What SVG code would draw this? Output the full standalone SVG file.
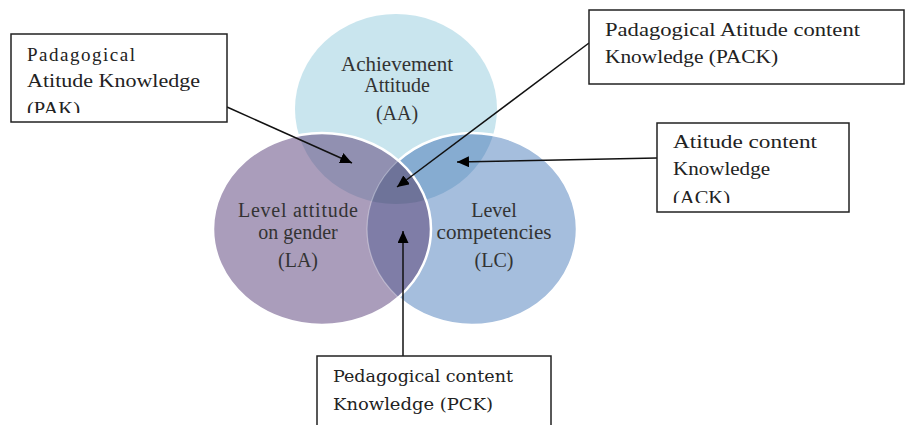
<svg xmlns="http://www.w3.org/2000/svg" width="906" height="425" viewBox="0 0 906 425">
<style>
.circ{font-size:20px;fill:#333;text-anchor:middle}
.bx{font-size:19px;fill:#222}
.pck{font-size:16px;fill:#222}
.box{fill:#fff;stroke:#222;stroke-width:1.5}
.con{stroke:#111;stroke-width:1.5;fill:none;marker-end:url(#ah)}
</style>
<defs>
<marker id="ah" viewBox="0 0 12 11" refX="12" refY="5.5" markerWidth="12" markerHeight="11" markerUnits="userSpaceOnUse" orient="auto">
<path d="M0,0 L12,5.5 L0,11 Z" fill="#000"/>
</marker>
<clipPath id="cT"><ellipse cx="396" cy="109" rx="101" ry="95"/></clipPath>
<clipPath id="cR"><ellipse cx="472" cy="229" rx="105" ry="96"/></clipPath>
<clipPath id="cNotL"><path clip-rule="evenodd" d="M0,0 H906 V425 H0 Z M213,229 a109,96 0 1,0 218,0 a109,96 0 1,0 -218,0 Z"/></clipPath>
<clipPath id="cPAK"><rect x="12" y="35" width="214" height="78"/></clipPath>
<clipPath id="cACK"><rect x="658" y="124" width="190" height="79"/></clipPath>
</defs>
<g id="venn" font-family="Liberation Serif, Times New Roman, serif">
<ellipse id="AA" cx="396" cy="109" rx="101" ry="95" fill="#c9e5ee"/>
<ellipse id="LC" cx="472" cy="229" rx="105" ry="96" fill="#a5bedd"/>
<ellipse id="LA" cx="322" cy="229" rx="109" ry="96" fill="#aa9dbb"/>
<ellipse cx="322" cy="229" rx="109" ry="96" fill="#9190b1" clip-path="url(#cT)"/>
<ellipse cx="472" cy="229" rx="105" ry="96" fill="#86acd1" clip-path="url(#cT)"/>
<ellipse cx="322" cy="229" rx="109" ry="96" fill="#7f7da7" clip-path="url(#cR)"/>
<g clip-path="url(#cT)"><ellipse cx="322" cy="229" rx="109" ry="96" fill="#6e7399" clip-path="url(#cR)"/></g>
<ellipse cx="472" cy="229" rx="105" ry="96" fill="none" stroke="#fff" stroke-opacity="0.35" stroke-width="1.2"/>
<ellipse cx="472" cy="229" rx="105" ry="96" fill="none" stroke="#fff" stroke-width="2.5" clip-path="url(#cNotL)"/>
<ellipse cx="322" cy="229" rx="109" ry="96" fill="none" stroke="#fff" stroke-width="2.5"/>
<text class="circ" x="397" y="71" textLength="112" lengthAdjust="spacingAndGlyphs">Achievement</text>
<text class="circ" x="397" y="92">Attitude</text>
<text class="circ" x="397" y="120">(AA)</text>
<text class="circ" x="298" y="217" textLength="120" lengthAdjust="spacing">Level attitude</text>
<text class="circ" x="298" y="239">on gender</text>
<text class="circ" x="298" y="267">(LA)</text>
<text class="circ" x="494" y="217">Level</text>
<text class="circ" x="494" y="239" textLength="115" lengthAdjust="spacingAndGlyphs">competencies</text>
<text class="circ" x="494" y="267">(LC)</text>
</g>
<g id="connectors">
<line class="con" x1="227" y1="107" x2="352" y2="163"/>
<line class="con" x1="589" y1="43" x2="397" y2="187"/>
<line class="con" x1="657" y1="158" x2="457" y2="162"/>
<line class="con" x1="403" y1="356" x2="403" y2="231"/>
</g>
<g id="PAK" font-family="Liberation Serif, Times New Roman, serif">
<rect class="box" x="11" y="34" width="216" height="88"/>
<g clip-path="url(#cPAK)">
<text class="bx" x="27" y="61" textLength="108" lengthAdjust="spacing">Padagogical</text>
<text class="bx" x="27" y="87" textLength="173" lengthAdjust="spacingAndGlyphs">Atitude Knowledge</text>
<text class="bx" x="27" y="115" textLength="53" lengthAdjust="spacingAndGlyphs">(PAK)</text>
</g>
</g>
<g id="PACK" font-family="Liberation Serif, Times New Roman, serif">
<rect class="box" x="589" y="10" width="315" height="74"/>
<text class="bx" x="605" y="36" textLength="255" lengthAdjust="spacingAndGlyphs">Padagogical Atitude content</text>
<text class="bx" x="605" y="63" textLength="173" lengthAdjust="spacingAndGlyphs">Knowledge  (PACK)</text>
</g>
<g id="ACK" font-family="Liberation Serif, Times New Roman, serif">
<rect class="box" x="657" y="123" width="192" height="89"/>
<g clip-path="url(#cACK)">
<text class="bx" x="673" y="148" textLength="144" lengthAdjust="spacingAndGlyphs">Atitude content</text>
<text class="bx" x="673" y="175" textLength="97" lengthAdjust="spacingAndGlyphs">Knowledge</text>
<text class="bx" x="673" y="204" textLength="57" lengthAdjust="spacingAndGlyphs">(ACK)</text>
</g>
</g>
<g id="PCK" font-family="DejaVu Serif, Liberation Serif, serif">
<rect class="box" x="317" y="356" width="234" height="80"/>
<text class="pck" x="333" y="382" textLength="180" lengthAdjust="spacingAndGlyphs">Pedagogical content</text>
<text class="pck" x="333" y="410" textLength="160" lengthAdjust="spacingAndGlyphs">Knowledge (PCK)</text>
</g>
</svg>
